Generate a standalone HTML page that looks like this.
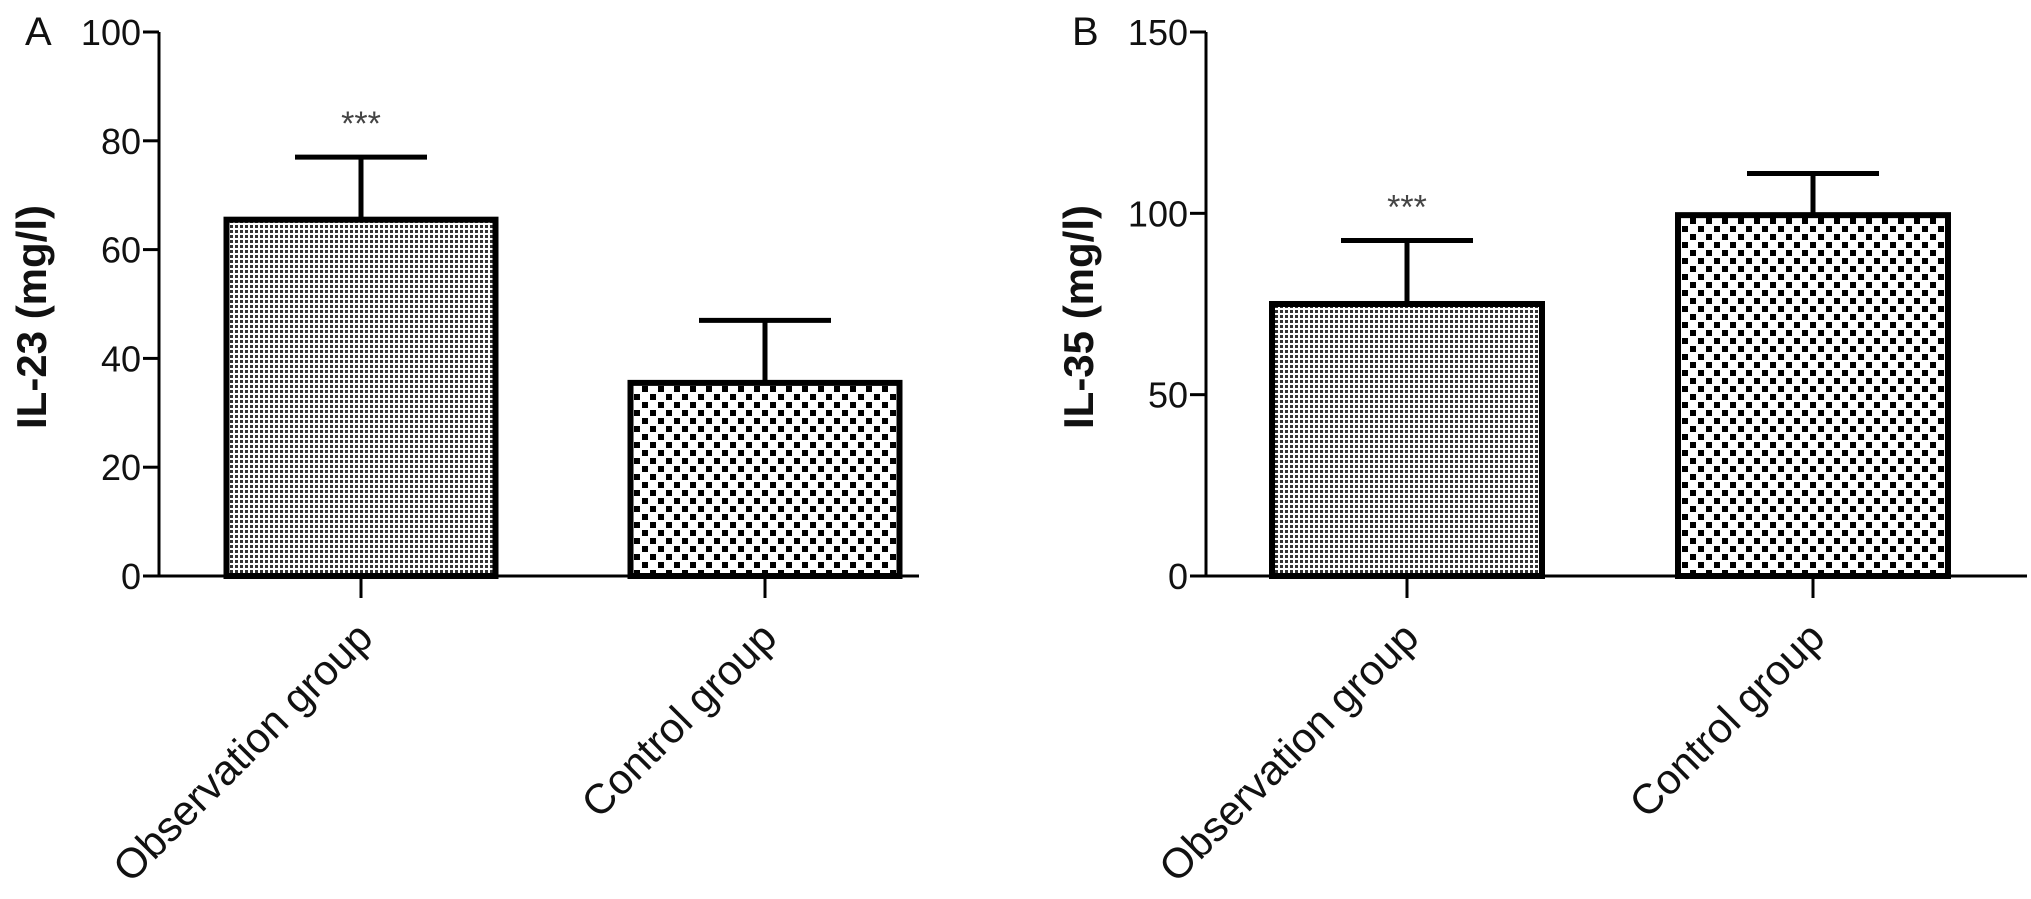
<!DOCTYPE html>
<html><head><meta charset="utf-8"><style>
html,body{margin:0;padding:0;background:#fff;}
svg{display:block;font-family:"Liberation Sans",Arial,sans-serif;}
</style></head><body>
<svg id="c" width="2031" height="899" viewBox="0 0 2031 899" xmlns="http://www.w3.org/2000/svg">
<defs>
<pattern id="fine" width="5" height="5" patternUnits="userSpaceOnUse"><rect width="5" height="5" fill="#fff"/><rect x="0" y="0" width="3" height="3" fill="#333"/></pattern>
<pattern id="check" width="16" height="16" patternUnits="userSpaceOnUse"><rect width="16" height="16" fill="#fff"/><rect x="2" y="2" width="6" height="6" fill="#000"/><rect x="10" y="10" width="6" height="6" fill="#000"/></pattern>
</defs>
</svg>
<script>
const categories = ["Observation group", "Control group"];
const il23Values = [65.5, 35.5];
const il23Errors = [77, 47];
const il23Ticks = [0, 20, 40, 60, 80, 100];
const il35Values = [75, 99.5];
const il35Errors = [92.5, 111];
const il35Ticks = [0, 50, 100, 150];
const NS = "http://www.w3.org/2000/svg";
const svg = document.getElementById('c');
function mk(tag, attrs, parent) { const e = document.createElementNS(NS, tag); for (const k in attrs) e.setAttribute(k, attrs[k]); (parent || svg).appendChild(e); return e; }
function panel(p) {
  const g = mk('g', {});
  
  
  const yMax = p.ticks[p.ticks.length - 1];
  const y = v => p.y0 - (v / yMax) * (p.y0 - p.yTop);
  const fills = ['url(#fine)', 'url(#check)'];
  categories.forEach((c, i) => {
    const cx = p.centers[i];
    const bar = mk('rect', {x: cx - p.bw / 2, y: y(p.values[i]), width: p.bw, height: p.y0 - y(p.values[i]), fill: fills[i], stroke: '#000', 'stroke-width': 6}, g);
    
    
    const eb = mk('path', {d: `M${cx},${y(p.values[i])} V${y(p.errors[i])} M${cx - 66},${y(p.errors[i])} H${cx + 66}`, stroke: '#000', 'stroke-width': 5, fill: 'none'}, g);
    
    
    mk('line', {x1: cx, x2: cx, y1: p.y0, y2: p.y0 + 22, stroke: '#000', 'stroke-width': 3}, g);
    const lab = mk('text', {x: 0, y: 0, 'font-size': 42, 'text-anchor': 'end', fill: '#111', transform: `translate(${cx + 14},${p.y0 + 64}) rotate(-45)`}, g);
    lab.textContent = c;
    
    
  });
  const st = mk('text', {x: p.centers[0], y: y(p.errors[0]) - 22, 'font-size': 34, 'text-anchor': 'middle', fill: '#444'}, g);
  st.textContent = '***';
  
  
  const ax = mk('path', {d: `M${p.ax},${p.yTop} V${p.y0} M${p.ax - 16},${p.y0} H${p.xEnd}`, stroke: '#000', 'stroke-width': 3, fill: 'none'}, g);
  
  
  p.ticks.forEach(t => {
    mk('line', {x1: p.ax - 16, x2: p.ax, y1: y(t), y2: y(t), stroke: '#000', 'stroke-width': 3}, g);
    const tl = mk('text', {x: p.ax - 18, y: y(t) + 13, 'font-size': 36, 'text-anchor': 'end', fill: '#111'}, g);
    tl.textContent = t;
    
    
  });
  const yt = mk('text', {x: 0, y: 0, 'font-size': 42, 'font-weight': 'bold', 'text-anchor': 'middle', fill: '#111', transform: `translate(${p.ax - 113},${(p.yTop + p.y0) / 2 + 13}) rotate(-90)`}, g);
  yt.textContent = p.title;
  
  
  const L = mk('text', {x: p.ax - 134, y: 45, 'font-size': 40, fill: '#111'}, g);
  L.textContent = p.letter;
  
  
}
panel({letter: 'A', title: 'IL-23 (mg/l)', ax: 159, yTop: 32, y0: 576, xEnd: 919, centers: [361, 765], bw: 269, values: il23Values, errors: il23Errors, ticks: il23Ticks});
panel({letter: 'B', title: 'IL-35 (mg/l)', ax: 1206, yTop: 32, y0: 576, xEnd: 2027, centers: [1407, 1813], bw: 270, values: il35Values, errors: il35Errors, ticks: il35Ticks});
</script>
</body></html>
